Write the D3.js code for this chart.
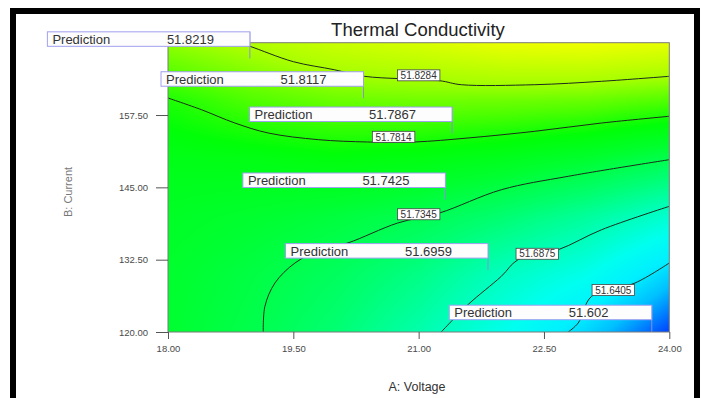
<!DOCTYPE html>
<html>
<head>
<meta charset="utf-8">
<script src="https://cdn.jsdelivr.net/npm/d3@7"></script>
<style>
  body { margin: 0; background: #fff; }
  svg { display: block; font-family: "Liberation Sans", Arial, sans-serif; }
</style>
</head>
<body>
<svg id="chart" width="705" height="398"></svg>
<script>
// response on a coarse grid (A: Voltage x B: Current)
const voltageGrid = [18, 19, 20, 21, 22, 23, 24];
const currentGrid = [120, 130, 140, 150, 160, 170];
const responseGrid = [
  [51.750, 51.737, 51.719, 51.695, 51.667, 51.634, 51.595],
  [51.752, 51.741, 51.729, 51.711, 51.686, 51.667, 51.633],
  [51.757, 51.751, 51.744, 51.735, 51.720, 51.702, 51.679],
  [51.766, 51.768, 51.772, 51.769, 51.762, 51.751, 51.736],
  [51.784, 51.800, 51.809, 51.811, 51.810, 51.808, 51.800],
  [51.822, 51.836, 51.852, 51.861, 51.874, 51.877, 51.871]
];

// contour lines, [voltage, current] pairs
const contourLevels = ['51.8284', '51.7814', '51.7345', '51.6875', '51.6405'];
const contourLines = [
  [[18.84, 170], [18.98, 169.38], [19.50, 166.72], [19.99, 165.33], [20.35, 164.19], [21.25, 163.43],
   [21.51, 162.74], [22.39, 162.74], [23.19, 163.33], [24.0, 164.19]],
  [[18.0, 160.44], [18.40, 158.42], [18.80, 156.12], [19.20, 154.39], [19.80, 153.24], [20.39, 152.84],
   [20.95, 152.84], [21.59, 153.53], [22.39, 154.69], [23.19, 156.12], [24.0, 157.28]],
  [[19.14, 120], [19.16, 124.44], [19.28, 128.47], [19.52, 131.93], [19.83, 134.22], [20.15, 135.38],
   [20.75, 138.84], [21.25, 140.57], [21.99, 144.59], [22.79, 146.91], [24.0, 149.78]],
  [[21.27, 120], [21.59, 124.72], [21.99, 129.63], [22.19, 132.50], [22.67, 134.22], [23.19, 137.68],
   [24.0, 141.72]],
  [[22.79, 120], [22.91, 121.56], [23.07, 126.17], [23.59, 128.47], [24.0, 131.93]]
];
const contourLabelPos = [[21.0, 164.36], [20.70, 153.73], [21.0, 140.35], [22.42, 133.52], [23.33, 127.26]];

// prediction flags
const predVoltage = [18.98, 20.34, 21.40, 21.32, 21.83, 23.79];
const predCurrent = [167.3, 160.4, 154.3, 142.9, 130.7, 120.05];
const predValue = ['51.8219', '51.8117', '51.7867', '51.7425', '51.6959', '51.602'];

const xTicks = [18, 19.5, 21, 22.5, 24];
const yTicks = [120, 132.5, 145, 157.5];

const svg = d3.select('#chart');
const plotL = 168, plotR = 669.3, plotT = 42.7, plotB = 332;
const x = d3.scaleLinear().domain([18, 24]).range([plotL, plotR]);
const y = d3.scaleLinear().domain([120, 170]).range([plotB, plotT]);

const color = d3.scaleLinear()
  .domain([51.595, 51.61, 51.625, 51.645, 51.665, 51.69, 51.72, 51.75, 51.775, 51.80, 51.83, 51.875])
  .range(['#0040ff', '#0080ff', '#00c0ff', '#00f0ff', '#00fff0', '#00ffb8', '#00ff70', '#00ff30',
          '#00ff08', '#50ff00', '#a8ff00', '#eeff00'])
  .clamp(true);

function valueAt(v, c) {
  const i = Math.min(voltageGrid.length - 2, Math.max(0, d3.bisectRight(voltageGrid, v) - 1));
  const j = Math.min(currentGrid.length - 2, Math.max(0, d3.bisectRight(currentGrid, c) - 1));
  const tx = (v - voltageGrid[i]) / (voltageGrid[i + 1] - voltageGrid[i]);
  const ty = (c - currentGrid[j]) / (currentGrid[j + 1] - currentGrid[j]);
  const a = responseGrid[j][i], b = responseGrid[j][i + 1];
  const d = responseGrid[j + 1][i], e = responseGrid[j + 1][i + 1];
  return (a * (1 - tx) + b * tx) * (1 - ty) + (d * (1 - tx) + e * tx) * ty;
}

// colour field
const w = Math.round(plotR - plotL), h = Math.round(plotB - plotT);
const canvas = document.createElement('canvas');
canvas.width = w; canvas.height = h;
const ctx = canvas.getContext('2d');
const img = ctx.createImageData(w, h);
for (let py = 0; py < h; py++) {
  const c = y.invert(plotT + py + 0.5);
  for (let px = 0; px < w; px++) {
    const v = x.invert(plotL + px + 0.5);
    const col = d3.rgb(color(valueAt(v, c)));
    const k = (py * w + px) * 4;
    img.data[k] = col.r; img.data[k + 1] = col.g; img.data[k + 2] = col.b; img.data[k + 3] = 255;
  }
}
ctx.putImageData(img, 0, 0);
svg.append('image')
  .attr('x', plotL).attr('y', plotT)
  .attr('width', plotR - plotL).attr('height', plotB - plotT)
  .attr('preserveAspectRatio', 'none')
  .attr('href', canvas.toDataURL());

svg.append('clipPath').attr('id', 'plotClip')
  .append('rect').attr('x', plotL).attr('y', plotT).attr('width', plotR - plotL).attr('height', plotB - plotT);

// contour lines
const line = d3.line().x(d => x(d[0])).y(d => y(d[1])).curve(d3.curveCatmullRom);
svg.append('g').attr('clip-path', 'url(#plotClip)')
  .selectAll('path').data(contourLines).join('path')
  .attr('d', line)
  .attr('fill', 'none')
  .attr('stroke', '#1c2c1c')
  .attr('stroke-width', 1);

// contour labels
const cl = svg.append('g').selectAll('g').data(contourLevels).join('g')
  .attr('transform', (d, i) => `translate(${x(contourLabelPos[i][0])},${y(contourLabelPos[i][1])})`);
cl.append('rect')
  .attr('x', -21.25).attr('y', -5.5).attr('width', 42.5).attr('height', 11)
  .attr('fill', '#fff').attr('stroke', '#444').attr('stroke-width', 0.8);
cl.append('text')
  .attr('text-anchor', 'middle').attr('y', 3.7)
  .attr('font-size', 10).attr('fill', '#333')
  .text(d => d);

// plot frame
svg.append('rect')
  .attr('x', plotL).attr('y', plotT).attr('width', plotR - plotL).attr('height', plotB - plotT)
  .attr('fill', 'none').attr('stroke', '#7a7a7a').attr('stroke-width', 1);

// axes
const fmt = d3.format('.2f');
const xAxis = svg.append('g').attr('transform', `translate(0,${plotB})`)
  .call(d3.axisBottom(x).tickValues(xTicks).tickFormat(fmt).tickSize(7).tickPadding(6));
const yAxis = svg.append('g').attr('transform', `translate(${plotL},0)`)
  .call(d3.axisLeft(y).tickValues(yTicks).tickFormat(fmt).tickSize(12).tickPadding(8));
[xAxis, yAxis].forEach(g => {
  g.select('.domain').remove();
  g.selectAll('line').attr('stroke', '#555');
  g.selectAll('text').attr('font-size', 9.5).attr('fill', '#4a4a4a')
    .attr('font-family', '"Liberation Sans", Arial, sans-serif');
});

// prediction flags
const boxW = 202.5, boxH = 14.5, pole = 26.5;
const flags = svg.append('g').selectAll('g').data(predValue).join('g')
  .attr('transform', (d, i) => `translate(${x(predVoltage[i])},${y(predCurrent[i])})`);
flags.append('line')
  .attr('x1', 0).attr('x2', 0).attr('y1', -pole).attr('y2', 0)
  .attr('stroke', '#8c8ce0').attr('stroke-width', 1);
flags.append('rect')
  .attr('x', -boxW).attr('y', -pole).attr('width', boxW).attr('height', boxH)
  .attr('fill', '#fdfdfd').attr('stroke', '#a0a0f0').attr('stroke-width', 1);
flags.append('text')
  .attr('x', -boxW + 5).attr('y', -pole + 12)
  .attr('font-size', 13).attr('fill', '#333')
  .text('Prediction');
flags.append('text')
  .attr('x', -boxW + 119.5).attr('y', -pole + 12)
  .attr('font-size', 13).attr('fill', '#333')
  .text(d => d);

// titles
svg.append('text')
  .attr('x', 418).attr('y', 36).attr('text-anchor', 'middle')
  .attr('font-size', 18.5).attr('fill', '#222')
  .text('Thermal Conductivity');
svg.append('text')
  .attr('x', 417).attr('y', 391).attr('text-anchor', 'middle')
  .attr('font-size', 12.5).attr('fill', '#333')
  .text('A: Voltage');
svg.append('text')
  .attr('transform', 'translate(72,192) rotate(-90)').attr('text-anchor', 'middle')
  .attr('font-size', 11).attr('fill', '#777')
  .text('B: Current');

// outer black frame
svg.append('rect')
  .attr('x', 13).attr('y', 11).attr('width', 684).attr('height', 420)
  .attr('fill', 'none').attr('stroke', '#000').attr('stroke-width', 6);
</script>
</body>
</html>
